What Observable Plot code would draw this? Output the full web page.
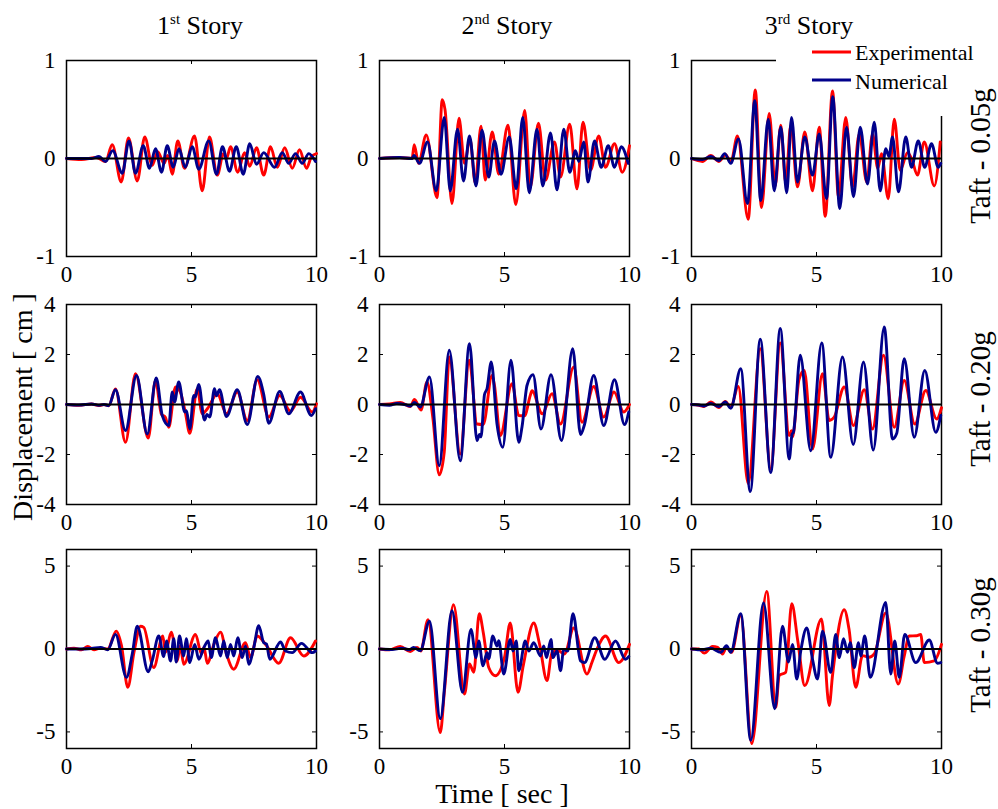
<!DOCTYPE html>
<html><head><meta charset="utf-8">
<script src="https://cdn.jsdelivr.net/npm/d3@7"></script>
<script src="https://cdn.jsdelivr.net/npm/@observablehq/plot@0.6"></script>
<style>
body{margin:0;background:#fff;}
#root{position:relative;width:998px;height:809px;overflow:hidden;background:#fff;}
.pl{position:absolute;}
.pl svg{display:block;overflow:visible;}
.pl svg text{font-family:"Liberation Serif","Times New Roman",serif !important;}
</style></head><body><div id="root"></div>
<script>
// ---------- labels & ticks ----------
const storyNums = ["1", "2", "3"];
const storySups = ["st", "nd", "rd"];
const storyWord = "Story";
const levels = ["Taft - 0.05g", "Taft - 0.20g", "Taft - 0.30g"];
const xLabel = "Time [ sec ]";
const yLabel = "Displacement [ cm ]";
const legendNames = ["Experimental", "Numerical"];
const xDomain = [0, 10];
const xTicks = [0, 5, 10];
const yDomain005 = [-1, 1], yTicks005 = [-1, 0, 1];
const yDomain020 = [-4, 4], yTicks020 = [-4, -2, 0, 2, 4];
const yDomain030 = [-6, 6], yTicks030 = [-5, 0, 5];

// ---------- data: [time (s), displacement (cm)] ----------
// Taft 0.05g
const exp005s1 = [[0,0],[0.6,-0.01],[1.2,0.01],[1.56,-0.03],[1.83,0.14],[2.19,-0.24],[2.48,0.21],[2.83,-0.23],[3.13,0.22],[3.43,-0.07],[3.65,0.07],[3.9,-0.05],[4.05,0.03],[4.23,-0.16],[4.45,0.18],[4.72,-0.1],[5.12,0.23],[5.43,-0.33],[5.72,0.22],[6.03,-0.17],[6.28,0.05],[6.4,0.0],[6.56,0.12],[6.85,-0.14],[7.12,0.06],[7.33,-0.08],[7.6,0.11],[7.89,-0.17],[8.16,0.12],[8.43,-0.09],[8.73,0.11],[9.03,-0.1],[9.32,0.09],[9.6,-0.1],[9.8,0.02],[10,0.05]];
const num005s1 = [[0,0],[1.0,0.0],[1.3,0.02],[1.56,-0.03],[1.85,0.08],[2.23,-0.15],[2.5,0.18],[2.76,-0.15],[3.07,0.13],[3.32,-0.1],[3.56,0.1],[3.8,-0.14],[4.03,0.13],[4.27,-0.09],[4.5,0.1],[4.75,-0.09],[5.03,0.12],[5.29,-0.11],[5.69,0.18],[6.0,-0.16],[6.24,0.12],[6.52,-0.13],[6.79,0.12],[7.07,-0.16],[7.33,0.15],[7.6,-0.06],[7.89,0.06],[8.32,-0.09],[8.63,0.06],[8.89,-0.05],[9.16,0.05],[9.43,-0.05],[9.69,0.05],[9.96,-0.03]];
const exp005s2 = [[0,0],[0.8,0.01],[1.3,0.0],[1.39,0.14],[1.56,-0.05],[1.87,0.24],[2.3,-0.4],[2.51,0.6],[2.62,0.5],[2.9,-0.46],[3.18,0.41],[3.4,-0.05],[3.62,0.2],[3.83,-0.25],[4.06,0.33],[4.23,-0.22],[4.51,0.27],[4.77,-0.16],[5.14,0.34],[5.45,-0.47],[5.81,0.49],[6.03,-0.29],[6.36,0.36],[6.64,-0.22],[7.0,0.17],[7.24,-0.19],[7.61,0.35],[7.9,-0.31],[8.14,0.37],[8.44,-0.12],[8.77,0.23],[9.04,-0.09],[9.4,0.15],[9.71,-0.14],[10,0.13]];
const num005s2 = [[0,0],[0.8,0.01],[1.3,0.0],[1.38,0.03],[1.6,-0.05],[1.92,0.17],[2.27,-0.33],[2.59,0.42],[2.83,-0.33],[3.12,0.3],[3.36,-0.23],[3.6,0.23],[3.86,-0.28],[4.1,0.29],[4.37,-0.19],[4.6,0.18],[4.86,-0.16],[5.19,0.22],[5.47,-0.31],[5.73,0.42],[5.99,-0.35],[6.3,0.3],[6.53,-0.28],[6.84,0.26],[7.1,-0.32],[7.37,0.3],[7.61,-0.14],[7.84,0.08],[7.97,-0.03],[8.17,0.17],[8.34,-0.24],[8.6,0.18],[8.87,-0.09],[9.15,0.13],[9.4,-0.09],[9.67,0.12],[9.95,-0.05]];
const exp005s3 = [[0,0],[0.44,-0.03],[0.77,0.03],[1.1,-0.03],[1.37,0.04],[1.57,-0.04],[1.84,0.23],[2.27,-0.62],[2.55,0.7],[2.8,-0.5],[3.11,0.46],[3.35,-0.28],[3.57,0.34],[3.77,-0.25],[3.97,0.34],[4.24,-0.29],[4.53,0.27],[4.84,-0.33],[5.11,0.32],[5.35,-0.59],[5.64,0.69],[5.88,-0.39],[6.17,0.42],[6.44,-0.29],[6.71,0.25],[7.01,-0.24],[7.24,0.25],[7.45,-0.1],[7.6,0.05],[7.87,-0.41],[8.11,0.4],[8.35,-0.12],[8.64,0.06],[8.8,0.0],[9.04,-0.17],[9.31,0.17],[9.71,-0.28],[9.95,0.17]];
const num005s3 = [[0,0],[0.44,-0.01],[0.77,0.02],[1.1,-0.02],[1.33,0.05],[1.57,-0.05],[1.88,0.2],[2.24,-0.46],[2.53,0.59],[2.77,-0.43],[3.07,0.4],[3.31,-0.33],[3.57,0.32],[3.81,-0.35],[4.0,0.42],[4.24,-0.24],[4.53,0.22],[4.84,-0.17],[5.11,0.25],[5.4,-0.41],[5.65,0.63],[5.93,-0.51],[6.2,0.32],[6.48,-0.39],[6.75,0.32],[7.04,-0.26],[7.31,0.37],[7.55,-0.33],[7.77,0.1],[7.9,0.02],[8.04,0.22],[8.28,-0.34],[8.57,0.22],[8.8,-0.09],[9.07,0.18],[9.33,-0.09],[9.6,0.15],[9.87,-0.09],[9.97,-0.05]];
// Taft 0.20g
const exp020s1 = [[0,0],[0.5,-0.03],[1.0,0.02],[1.3,-0.04],[1.5,0.0],[1.69,-0.05],[1.96,0.62],[2.36,-1.51],[2.76,1.23],[3.27,-1.34],[3.56,0.96],[3.8,-0.4],[3.95,-0.5],[4.09,-0.91],[4.36,0.7],[4.55,0.5],[4.75,-0.3],[4.93,-1.15],[5.23,0.63],[5.43,-0.37],[5.65,-0.15],[6.03,0.43],[6.4,-0.37],[6.83,0.5],[7.23,-0.64],[7.63,0.99],[8.09,-0.5],[8.53,0.36],[8.96,-0.27],[9.36,0.29],[9.83,-0.3],[10,0.03]];
const num020s1 = [[0,0],[0.5,-0.02],[1.0,0.02],[1.3,-0.03],[1.5,0.0],[1.69,-0.04],[1.96,0.59],[2.36,-1.04],[2.8,1.16],[3.23,-1.18],[3.59,1.06],[3.83,-0.44],[4.09,-0.84],[4.23,0.5],[4.32,0.1],[4.49,0.9],[4.73,-0.3],[4.8,-0.25],[4.93,-0.98],[5.09,0.36],[5.15,0.3],[5.29,0.8],[5.52,-0.62],[5.62,-0.4],[5.73,-0.5],[5.92,0.63],[6.0,0.35],[6.12,0.59],[6.4,-0.48],[6.83,0.59],[7.23,-0.8],[7.65,1.12],[7.89,0.4],[8.09,-0.75],[8.53,0.52],[8.89,-0.37],[9.36,0.5],[9.79,-0.44],[9.96,-0.17]];
const exp020s2 = [[0,0],[0.4,0.02],[0.83,0.08],[1.23,-0.08],[1.4,0.2],[1.66,-0.22],[1.9,0.9],[2.13,-0.5],[2.39,-2.81],[2.59,-1.9],[2.79,1.9],[3.23,-1.98],[3.59,1.77],[3.9,-0.78],[4.15,-0.8],[4.5,1.16],[4.6,0.76],[4.83,-1.24],[5.3,0.83],[5.57,-0.44],[5.8,-0.45],[6.03,0.36],[6.1,0.55],[6.51,-0.37],[6.9,0.43],[7.24,-0.78],[7.77,1.5],[8.1,-0.71],[8.57,0.72],[8.97,-0.5],[9.38,0.5],[9.77,-0.3],[10,0]];
const num020s2 = [[0,0],[0.4,-0.03],[0.69,0.04],[1.0,0.0],[1.23,-0.06],[1.4,0.08],[1.63,-0.1],[2.0,1.1],[2.39,-2.45],[2.79,2.17],[3.23,-2.25],[3.6,2.43],[3.9,-1.44],[4.0,-1.2],[4.06,-1.3],[4.2,0.4],[4.3,0.63],[4.47,1.7],[4.7,-0.78],[4.93,-1.71],[5.26,1.77],[5.57,-1.51],[5.7,-0.9],[5.9,0.76],[6.14,1.19],[6.46,-0.98],[6.86,1.19],[7.28,-1.44],[7.73,2.23],[8.04,-1.2],[8.2,-0.8],[8.57,1.16],[8.97,-0.84],[9.4,0.99],[9.8,-0.8],[9.97,-0.3]];
const exp020s3 = [[0,0],[0.3,-0.03],[0.5,-0.08],[0.77,0.1],[1.1,-0.12],[1.35,0.12],[1.57,-0.1],[1.87,0.72],[2.27,-3.16],[2.75,2.23],[3.17,-2.58],[3.55,2.46],[3.91,-1.24],[4.0,-1.05],[4.04,-1.3],[4.3,1.0],[4.51,1.36],[4.84,-1.78],[5.24,1.23],[5.51,-0.64],[5.71,-0.5],[6.11,0.7],[6.48,-0.84],[6.91,0.59],[7.24,-0.98],[7.68,1.97],[8.11,-0.91],[8.51,0.96],[8.93,-0.78],[9.37,0.56],[9.81,-0.58],[10,-0.13]];
const num020s3 = [[0,0],[0.3,-0.02],[0.5,-0.06],[0.77,0.04],[1.1,-0.08],[1.35,0.1],[1.57,-0.15],[1.97,1.43],[2.35,-3.48],[2.75,2.61],[3.17,-2.72],[3.55,3.04],[3.91,-2.18],[4.02,-1.2],[4.08,-1.1],[4.35,1.97],[4.77,-1.85],[5.21,2.46],[5.57,-2.11],[6.04,1.9],[6.47,-1.6],[6.88,1.7],[7.27,-1.82],[7.71,3.1],[8.04,-1.38],[8.21,-1.15],[8.51,1.83],[8.91,-1.31],[9.33,1.36],[9.77,-1.11],[9.97,-0.44]];
// Taft 0.30g
const exp030s1 = [[0,0],[0.3,0.05],[0.6,-0.05],[0.85,0.15],[1.1,-0.05],[1.36,0.05],[1.65,0.0],[1.99,1.08],[2.2,0.2],[2.45,-2.31],[2.7,-0.2],[2.96,1.37],[3.09,1.3],[3.49,-1.12],[3.85,0.78],[3.96,-0.2],[4.19,1.02],[4.43,-0.72],[4.55,0.2],[4.69,-0.92],[5.16,0.88],[5.4,-0.3],[5.5,0.1],[5.63,-0.86],[5.9,0.3],[6.16,1.02],[6.4,-0.3],[6.69,-1.22],[7.16,0.38],[7.36,-0.52],[7.63,0.78],[8.0,0.2],[8.49,-0.86],[8.96,0.68],[9.49,-0.42],[9.96,0.48]];
const num030s1 = [[0,0],[0.5,0.0],[1.0,0.03],[1.36,0.1],[1.65,-0.05],[1.96,0.88],[2.4,-1.71],[2.63,-0.3],[2.83,1.37],[3.27,-1.37],[3.43,-0.7],[3.69,0.78],[3.89,-0.46],[4.0,0.48],[4.16,-0.72],[4.29,0.62],[4.39,-0.78],[4.52,0.78],[4.69,-0.42],[4.79,0.62],[4.93,-0.82],[5.13,0.28],[5.29,-0.62],[5.5,0.1],[5.67,0.48],[5.79,-0.52],[5.96,0.68],[6.16,-0.42],[6.29,0.48],[6.43,-0.52],[6.56,0.28],[6.69,-0.42],[6.85,0.68],[7.03,-0.52],[7.16,0.18],[7.29,-0.92],[7.49,0.08],[7.69,1.41],[7.89,0.38],[8.0,0.3],[8.13,-0.62],[8.56,0.42],[8.76,-0.12],[9.03,-0.22],[9.4,0.34],[9.83,-0.22],[9.96,-0.12]];
const exp030s2 = [[0,0],[0.4,-0.05],[0.83,0.15],[1.23,-0.15],[1.5,0.1],[1.65,-0.12],[1.94,1.77],[2.43,-5.04],[2.6,-2.5],[2.96,2.67],[3.4,-2.71],[3.6,-0.9],[3.77,-1.4],[3.99,2.13],[4.15,1.0],[4.37,-1.12],[4.63,-1.61],[5.0,-0.5],[5.23,1.57],[5.54,-2.61],[5.75,-1.0],[6.17,1.57],[6.4,0.3],[6.7,-1.91],[6.9,-0.2],[7.17,-0.12],[7.4,-0.3],[7.77,1.27],[8.3,-1.51],[8.5,-0.8],[8.7,0.0],[9.04,0.78],[9.57,-0.82],[10,0.28]];
const num030s2 = [[0,0],[0.5,-0.03],[0.9,0.05],[1.2,-0.05],[1.36,0.1],[1.63,-0.1],[2.0,1.67],[2.43,-4.2],[2.9,2.31],[3.32,-2.61],[3.66,1.18],[3.86,-0.52],[3.97,0.48],[4.14,-1.02],[4.3,-0.22],[4.37,-0.6],[4.53,0.78],[4.7,0.18],[4.77,0.5],[4.97,-1.51],[5.23,0.58],[5.34,-0.12],[5.47,0.48],[5.57,-1.31],[5.83,0.48],[5.97,-0.12],[6.17,0.38],[6.44,-0.42],[6.57,0.18],[6.68,-0.52],[6.86,0.58],[6.94,-0.52],[7.1,-0.12],[7.24,-1.31],[7.37,-0.02],[7.53,-0.12],[7.74,2.13],[8.04,-0.72],[8.2,-0.82],[8.61,0.68],[9.01,-0.62],[9.44,0.48],[9.84,-0.62],[9.97,-0.46]];
const exp030s3 = [[0,0],[0.3,0.0],[0.51,-0.25],[0.84,0.15],[1.05,0.1],[1.24,-0.3],[1.4,0.1],[1.6,-0.2],[1.97,2.01],[2.41,-5.7],[3.01,3.47],[3.37,-3.51],[3.51,-1.6],[3.77,-1.4],[4.01,2.73],[4.25,0.5],[4.53,-2.21],[5.2,1.81],[5.51,-3.41],[5.64,-1.6],[6.11,2.37],[6.3,1.2],[6.57,-2.31],[6.84,-0.4],[7.1,-0.5],[7.31,-0.3],[7.77,2.17],[8.27,-2.11],[8.5,-0.5],[8.71,0.78],[9.0,0.8],[9.17,0.88],[9.31,-0.82],[9.71,-0.72],[10,0.28]];
const num030s3 = [[0,0],[0.44,-0.05],[0.77,0.05],[1.17,-0.2],[1.4,0.2],[1.57,-0.2],[1.97,2.13],[2.37,-5.5],[2.88,2.77],[3.33,-3.6],[3.64,1.37],[3.88,-0.78],[4.04,0.28],[4.21,-1.81],[4.37,-0.12],[4.61,1.27],[4.84,-0.62],[5.04,-1.81],[5.24,1.08],[5.57,-1.41],[5.77,0.88],[5.91,-0.52],[6.08,0.62],[6.24,-0.2],[6.35,0.38],[6.51,-1.12],[6.68,0.38],[6.77,-0.42],[6.93,0.78],[7.15,-1.71],[7.77,2.81],[7.97,-1.51],[8.13,0.48],[8.31,-1.71],[8.53,0.88],[8.97,-0.82],[9.51,0.54],[9.84,-0.86],[9.97,-0.82]];

// ---------- layout ----------
const FONT = '"Liberation Serif","Times New Roman",serif';
const RED = "#ff0000", BLUE = "#00008b";
const W = 250, mL = 50, mR = 12, mT = 12, mB = 40;
const colLeft = [66, 379, 691];
const rowTop = [60, 304, 549];
const rowH = [196, 200, 199];

const rows = [
  {domain: yDomain005, ticks: yTicks005, exp: [exp005s1, exp005s2, exp005s3], num: [num005s1, num005s2, num005s3]},
  {domain: yDomain020, ticks: yTicks020, exp: [exp020s1, exp020s2, exp020s3], num: [num020s1, num020s2, num020s3]},
  {domain: yDomain030, ticks: yTicks030, exp: [exp030s1, exp030s2, exp030s3], num: [num030s1, num030s2, num030s3]}
];

const root = document.getElementById("root");
const svgStyle = `background: transparent; font-family: ${FONT}; font-size: 23px; color: black; overflow: visible;`;

function place(node, c, r) {
  const d = document.createElement("div");
  d.className = "pl";
  d.style.left = (colLeft[c] - mL) + "px";
  d.style.top = (rowTop[r] - mT) + "px";
  d.appendChild(node);
  root.appendChild(d);
}

// Layer 1: frames and inward ticks
rows.forEach((row, r) => {
  const h = rowH[r];
  for (let c = 0; c < 3; c++) {
    place(Plot.plot({
      width: W + mL + mR, height: h + mT + mB,
      marginLeft: mL, marginRight: mR, marginTop: mT, marginBottom: mB,
      x: {domain: xDomain, axis: null}, y: {domain: row.domain, axis: null},
      style: svgStyle,
      marks: [
        Plot.frame({stroke: "black", strokeWidth: 1.5}),
        Plot.tickX(xTicks, {x: d => d, insetTop: h - 4, stroke: "black", strokeWidth: 1}),
        Plot.tickX(xTicks, {x: d => d, insetBottom: h - 4, stroke: "black", strokeWidth: 1}),
        Plot.tickY(row.ticks, {y: d => d, insetRight: W - 4, stroke: "black", strokeWidth: 1}),
        Plot.tickY(row.ticks, {y: d => d, insetLeft: W - 4, stroke: "black", strokeWidth: 1})
      ]
    }), c, r);
  }
});

// Layer 2: legend box (hides frame corner of top-right panel), legend, titles
const ov = d3.select(root).append("svg")
  .attr("width", 998).attr("height", 809)
  .style("position", "absolute").style("left", "0px").style("top", "0px");

ov.append("rect").attr("x", 776).attr("y", 38).attr("width", 190).attr("height", 78).attr("fill", "white");
[[RED, 52, 60], [BLUE, 80, 89]].forEach(([col, ly, ty], i) => {
  ov.append("line").attr("x1", 812).attr("x2", 851).attr("y1", ly).attr("y2", ly)
    .attr("stroke", col).attr("stroke-width", 3);
  ov.append("text").attr("x", 855).attr("y", ty).attr("font-family", FONT)
    .attr("font-size", 22).attr("fill", "black").text(legendNames[i]);
});

const titleX = [200, 507, 809];
storyNums.forEach((n, i) => {
  const t = ov.append("text").attr("x", titleX[i]).attr("y", 34).attr("text-anchor", "middle")
    .attr("font-family", FONT).attr("font-size", 26).attr("fill", "black");
  t.append("tspan").text(n);
  t.append("tspan").attr("dy", -10).attr("font-size", 15).text(storySups[i]);
  t.append("tspan").attr("dy", 10).text("\u00a0" + storyWord);
});

const rowLabelY = [156, 399, 645];
levels.forEach((lab, i) => {
  ov.append("text").attr("transform", `translate(990,${rowLabelY[i]}) rotate(-90)`)
    .attr("text-anchor", "middle").attr("font-family", FONT).attr("font-size", 29).attr("fill", "black").text(lab);
});

ov.append("text").attr("transform", "translate(32,407) rotate(-90)")
  .attr("text-anchor", "middle").attr("font-family", FONT).attr("font-size", 28).attr("fill", "black").text(yLabel);
ov.append("text").attr("x", 502).attr("y", 803).attr("text-anchor", "middle")
  .attr("font-family", FONT).attr("font-size", 28).attr("fill", "black").text(xLabel);

// Layer 3: data, zero line and tick labels
rows.forEach((row, r) => {
  const h = rowH[r];
  for (let c = 0; c < 3; c++) {
    place(Plot.plot({
      width: W + mL + mR, height: h + mT + mB,
      marginLeft: mL, marginRight: mR, marginTop: mT, marginBottom: mB,
      x: {domain: xDomain}, y: {domain: row.domain},
      style: svgStyle,
      marks: [
        Plot.axisX({anchor: "bottom", ticks: xTicks, tickSize: 0, tickPadding: 9, tickFormat: d => String(d), label: null, fontSize: 23, fontFamily: FONT}),
        Plot.axisY({anchor: "left", ticks: row.ticks, tickSize: 0, tickPadding: 11, tickFormat: d => String(d), label: null, fontSize: 23, fontFamily: FONT}),
        Plot.line(row.exp[c], {x: d => d[0], y: d => d[1], stroke: RED, strokeWidth: 2.9, curve: "monotone-x", strokeLinejoin: "round"}),
        Plot.line(row.num[c], {x: d => d[0], y: d => d[1], stroke: BLUE, strokeWidth: 2.9, curve: "monotone-x", strokeLinejoin: "round"}),
        Plot.ruleY([0], {stroke: "black", strokeWidth: 1.8})
      ]
    }), c, r);
  }
});
</script></body></html>
